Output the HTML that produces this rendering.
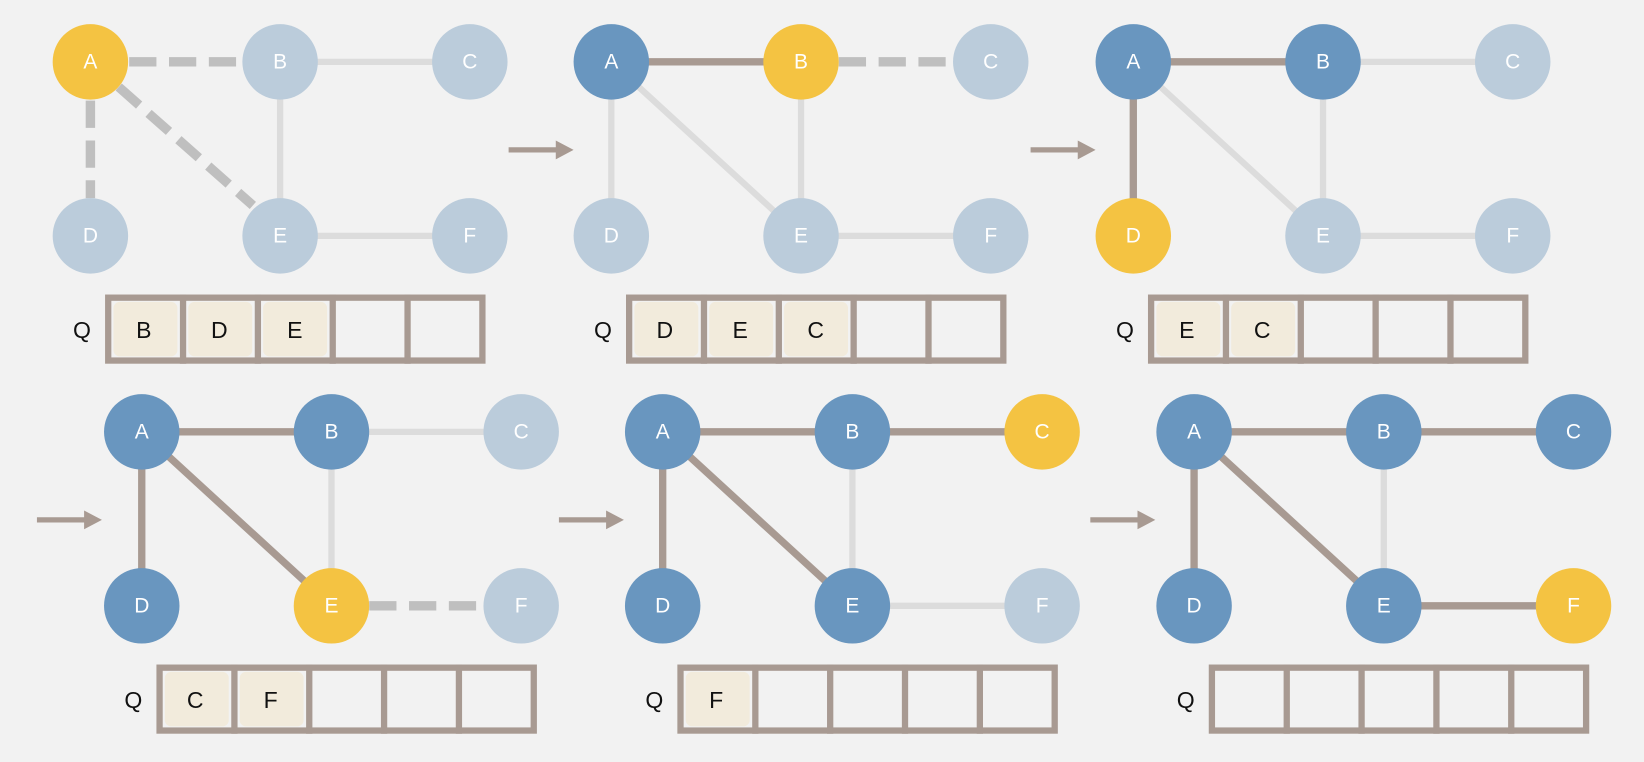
<!DOCTYPE html>
<html><head><meta charset="utf-8"><style>
html,body{margin:0;padding:0;background:#F2F2F2;}
svg{display:block;}
.n{font-family:"Liberation Sans",sans-serif;font-size:20px;fill:#fff;text-anchor:middle;dominant-baseline:central;}
.q{font-family:"Liberation Sans",sans-serif;font-size:22px;fill:#111;text-anchor:middle;dominant-baseline:central;}
.lt{stroke:#DCDCDC;stroke-width:6;}
.ds{stroke:#BFBFBF;stroke-width:9;stroke-dasharray:26 12;}
.br{stroke:#A89A92;stroke-width:7;}
.y{fill:#F4C342}.l{fill:#BBCCDB}.d{fill:#6996BF}
.qb{fill:none;stroke:#A89A92;stroke-width:6;}
.qi{fill:#F2EBDC;}
</style></head><body>
<svg width="1644" height="762" viewBox="0 0 1568 727" xmlns="http://www.w3.org/2000/svg">
<rect width="1568" height="727" fill="#F2F2F2"/>
<defs>
<g id="qbox">
<rect x="17" y="225" width="357" height="60" fill="#F5F5F5" class="qb"/>
<line x1="88.4" y1="222" x2="88.4" y2="288" class="qb"/>
<line x1="159.8" y1="222" x2="159.8" y2="288" class="qb"/>
<line x1="231.2" y1="222" x2="231.2" y2="288" class="qb"/>
<line x1="302.6" y1="222" x2="302.6" y2="288" class="qb"/>
</g>
</defs>
<!-- arrows -->
<g fill="#A89A92" stroke="#A89A92">
<line x1="485" y1="143" x2="532" y2="143" stroke-width="5"/><polygon points="530,134 547,143 530,152" stroke="none"/>
<line x1="983" y1="143" x2="1030" y2="143" stroke-width="5"/><polygon points="1028,134 1045,143 1028,152" stroke="none"/>
<line x1="35" y1="496" x2="82" y2="496" stroke-width="5"/><polygon points="80,487 97,496 80,505" stroke="none"/>
<line x1="533" y1="496" x2="580" y2="496" stroke-width="5"/><polygon points="578,487 595,496 578,505" stroke="none"/>
<line x1="1040" y1="496" x2="1087" y2="496" stroke-width="5"/><polygon points="1085,487 1102,496 1085,505" stroke="none"/>
</g>

<!-- Panel 1 -->
<g transform="translate(86,59)">
<line x1="181" y1="0" x2="362" y2="0" class="lt"/>
<line x1="181" y1="0" x2="181" y2="166" class="lt"/>
<line x1="181" y1="166" x2="362" y2="166" class="lt"/>
<line x1="37" y1="0" x2="148" y2="0" class="ds"/>
<line x1="0" y1="37" x2="0" y2="130" class="ds"/>
<line x1="27" y1="24" x2="155" y2="137" class="ds"/>
<circle cx="0" cy="0" r="36" class="y"/><text x="0" y="0" class="n">A</text>
<circle cx="181" cy="0" r="36" class="l"/><text x="181" y="0" class="n">B</text>
<circle cx="362" cy="0" r="36" class="l"/><text x="362" y="0" class="n">C</text>
<circle cx="0" cy="166" r="36" class="l"/><text x="0" y="166" class="n">D</text>
<circle cx="181" cy="166" r="36" class="l"/><text x="181" y="166" class="n">E</text>
<circle cx="362" cy="166" r="36" class="l"/><text x="362" y="166" class="n">F</text>
<use href="#qbox"/>
<rect x="22" y="229" width="61" height="52" rx="6" class="qi"/><text x="51" y="256" class="q">B</text>
<rect x="93.4" y="229" width="61" height="52" rx="6" class="qi"/><text x="123" y="256" class="q">D</text>
<rect x="164.8" y="229" width="61" height="52" rx="6" class="qi"/><text x="195" y="256" class="q">E</text>
<text x="-8" y="256" class="q">Q</text>
</g>

<!-- Panel 2 -->
<g transform="translate(583,59)">
<line x1="181" y1="0" x2="181" y2="166" class="lt"/>
<line x1="181" y1="166" x2="362" y2="166" class="lt"/>
<line x1="0" y1="0" x2="0" y2="166" class="lt"/>
<line x1="0" y1="0" x2="181" y2="166" class="lt"/>
<line x1="0" y1="0" x2="181" y2="0" class="br"/>
<line x1="217" y1="0" x2="326" y2="0" class="ds"/>
<circle cx="0" cy="0" r="36" class="d"/><text x="0" y="0" class="n">A</text>
<circle cx="181" cy="0" r="36" class="y"/><text x="181" y="0" class="n">B</text>
<circle cx="362" cy="0" r="36" class="l"/><text x="362" y="0" class="n">C</text>
<circle cx="0" cy="166" r="36" class="l"/><text x="0" y="166" class="n">D</text>
<circle cx="181" cy="166" r="36" class="l"/><text x="181" y="166" class="n">E</text>
<circle cx="362" cy="166" r="36" class="l"/><text x="362" y="166" class="n">F</text>
<use href="#qbox"/>
<rect x="22" y="229" width="61" height="52" rx="6" class="qi"/><text x="51" y="256" class="q">D</text>
<rect x="93.4" y="229" width="61" height="52" rx="6" class="qi"/><text x="123" y="256" class="q">E</text>
<rect x="164.8" y="229" width="61" height="52" rx="6" class="qi"/><text x="195" y="256" class="q">C</text>
<text x="-8" y="256" class="q">Q</text>
</g>

<!-- Panel 3 -->
<g transform="translate(1081,59)">
<line x1="181" y1="0" x2="362" y2="0" class="lt"/>
<line x1="181" y1="0" x2="181" y2="166" class="lt"/>
<line x1="181" y1="166" x2="362" y2="166" class="lt"/>
<line x1="0" y1="0" x2="181" y2="166" class="lt"/>
<line x1="0" y1="0" x2="181" y2="0" class="br"/>
<line x1="0" y1="0" x2="0" y2="166" class="br"/>
<circle cx="0" cy="0" r="36" class="d"/><text x="0" y="0" class="n">A</text>
<circle cx="181" cy="0" r="36" class="d"/><text x="181" y="0" class="n">B</text>
<circle cx="362" cy="0" r="36" class="l"/><text x="362" y="0" class="n">C</text>
<circle cx="0" cy="166" r="36" class="y"/><text x="0" y="166" class="n">D</text>
<circle cx="181" cy="166" r="36" class="l"/><text x="181" y="166" class="n">E</text>
<circle cx="362" cy="166" r="36" class="l"/><text x="362" y="166" class="n">F</text>
<use href="#qbox"/>
<rect x="22" y="229" width="61" height="52" rx="6" class="qi"/><text x="51" y="256" class="q">E</text>
<rect x="93.4" y="229" width="61" height="52" rx="6" class="qi"/><text x="123" y="256" class="q">C</text>
<text x="-8" y="256" class="q">Q</text>
</g>

<!-- Panel 4 -->
<g transform="translate(135,412)">
<line x1="181" y1="0" x2="362" y2="0" class="lt"/>
<line x1="181" y1="0" x2="181" y2="166" class="lt"/>
<line x1="0" y1="0" x2="181" y2="0" class="br"/>
<line x1="0" y1="0" x2="0" y2="166" class="br"/>
<line x1="0" y1="0" x2="181" y2="166" class="br"/>
<line x1="217" y1="166" x2="326" y2="166" class="ds"/>
<circle cx="0" cy="0" r="36" class="d"/><text x="0" y="0" class="n">A</text>
<circle cx="181" cy="0" r="36" class="d"/><text x="181" y="0" class="n">B</text>
<circle cx="362" cy="0" r="36" class="l"/><text x="362" y="0" class="n">C</text>
<circle cx="0" cy="166" r="36" class="d"/><text x="0" y="166" class="n">D</text>
<circle cx="181" cy="166" r="36" class="y"/><text x="181" y="166" class="n">E</text>
<circle cx="362" cy="166" r="36" class="l"/><text x="362" y="166" class="n">F</text>
<use href="#qbox"/>
<rect x="22" y="229" width="61" height="52" rx="6" class="qi"/><text x="51" y="256" class="q">C</text>
<rect x="93.4" y="229" width="61" height="52" rx="6" class="qi"/><text x="123" y="256" class="q">F</text>
<text x="-8" y="256" class="q">Q</text>
</g>

<!-- Panel 5 -->
<g transform="translate(632,412)">
<line x1="181" y1="0" x2="181" y2="166" class="lt"/>
<line x1="181" y1="166" x2="362" y2="166" class="lt"/>
<line x1="0" y1="0" x2="181" y2="0" class="br"/>
<line x1="181" y1="0" x2="362" y2="0" class="br"/>
<line x1="0" y1="0" x2="0" y2="166" class="br"/>
<line x1="0" y1="0" x2="181" y2="166" class="br"/>
<circle cx="0" cy="0" r="36" class="d"/><text x="0" y="0" class="n">A</text>
<circle cx="181" cy="0" r="36" class="d"/><text x="181" y="0" class="n">B</text>
<circle cx="362" cy="0" r="36" class="y"/><text x="362" y="0" class="n">C</text>
<circle cx="0" cy="166" r="36" class="d"/><text x="0" y="166" class="n">D</text>
<circle cx="181" cy="166" r="36" class="d"/><text x="181" y="166" class="n">E</text>
<circle cx="362" cy="166" r="36" class="l"/><text x="362" y="166" class="n">F</text>
<use href="#qbox"/>
<rect x="22" y="229" width="61" height="52" rx="6" class="qi"/><text x="51" y="256" class="q">F</text>
<text x="-8" y="256" class="q">Q</text>
</g>

<!-- Panel 6 -->
<g transform="translate(1139,412)">
<line x1="181" y1="0" x2="181" y2="166" class="lt"/>
<line x1="0" y1="0" x2="181" y2="0" class="br"/>
<line x1="181" y1="0" x2="362" y2="0" class="br"/>
<line x1="0" y1="0" x2="0" y2="166" class="br"/>
<line x1="0" y1="0" x2="181" y2="166" class="br"/>
<line x1="181" y1="166" x2="362" y2="166" class="br"/>
<circle cx="0" cy="0" r="36" class="d"/><text x="0" y="0" class="n">A</text>
<circle cx="181" cy="0" r="36" class="d"/><text x="181" y="0" class="n">B</text>
<circle cx="362" cy="0" r="36" class="d"/><text x="362" y="0" class="n">C</text>
<circle cx="0" cy="166" r="36" class="d"/><text x="0" y="166" class="n">D</text>
<circle cx="181" cy="166" r="36" class="d"/><text x="181" y="166" class="n">E</text>
<circle cx="362" cy="166" r="36" class="y"/><text x="362" y="166" class="n">F</text>
<use href="#qbox"/>
<text x="-8" y="256" class="q">Q</text>
</g>
</svg>
</body></html>
